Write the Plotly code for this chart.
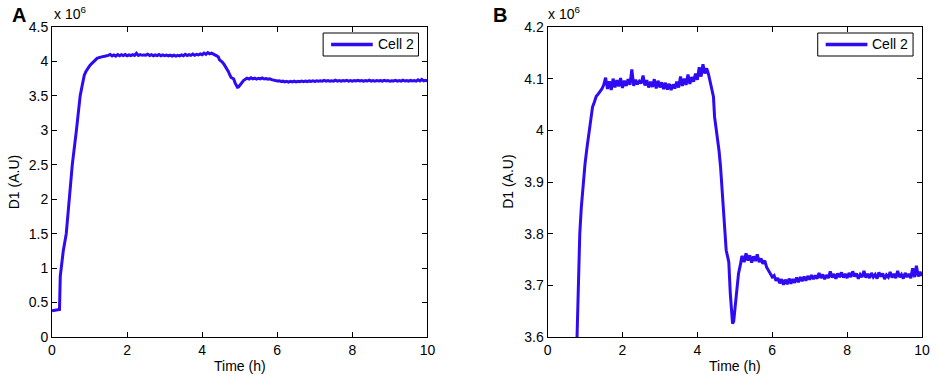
import plotly.graph_objects as go

# ---- data (D1 in units of 1e6, time in hours) ----
time_h = [0.00, 0.10, 0.20, 0.22, 0.30, 0.38, 0.46, 0.54, 0.65, 0.75, 0.80, 0.86, 0.90, 0.95,
          1.00, 1.05, 1.10, 1.15, 1.20, 1.25, 1.30, 1.35, 1.40, 1.45, 1.50,
          1.55, 1.60, 1.65, 1.70, 1.75, 1.80, 1.85, 1.90, 1.95, 2.00, 2.05, 2.10, 2.15, 2.20,
          2.25, 2.30, 2.35, 2.40, 2.45, 2.50, 2.55, 2.60, 2.65, 2.70, 2.75, 2.80, 2.85, 2.90,
          2.95, 3.00, 3.05, 3.10, 3.15, 3.20, 3.25, 3.30, 3.35, 3.40, 3.45, 3.50, 3.55, 3.60,
          3.65, 3.70, 3.75, 3.80, 3.85, 3.90, 3.95, 4.00, 4.05, 4.10, 4.15, 4.20, 4.25, 4.30,
          4.35, 4.40, 4.43, 4.46, 4.50, 4.53, 4.58, 4.62, 4.66, 4.70, 4.74, 4.77, 4.81, 4.84,
          4.88, 4.91, 4.94, 4.97, 5.01, 5.05, 5.10, 5.15, 5.19,
          5.25, 5.30, 5.35, 5.40, 5.45, 5.50, 5.55, 5.60, 5.65, 5.70, 5.75, 5.80, 5.85, 5.90,
          5.95, 6.00, 6.05, 6.10, 6.15, 6.20, 6.25, 6.30, 6.35, 6.40, 6.45, 6.50, 6.55, 6.60,
          6.65, 6.70, 6.75, 6.80, 6.85, 6.90, 6.95, 7.00, 7.05, 7.10, 7.15, 7.20, 7.25, 7.30,
          7.35, 7.40, 7.45, 7.50, 7.55, 7.60, 7.65, 7.70, 7.75, 7.80, 7.85, 7.90, 7.95, 8.00,
          8.05, 8.10, 8.15, 8.20, 8.25, 8.30, 8.35, 8.40, 8.45, 8.50, 8.55, 8.60, 8.65, 8.70,
          8.75, 8.80, 8.85, 8.90, 8.95, 9.00, 9.05, 9.10, 9.15, 9.20, 9.25, 9.30, 9.35, 9.40,
          9.45, 9.50, 9.55, 9.60, 9.65, 9.70, 9.75, 9.80, 9.85, 9.90, 9.95, 10.00]

d1_cell2 = [0.380, 0.390, 0.400, 0.880, 1.250, 1.500, 2.000, 2.500, 3.000, 3.500, 3.640, 3.800, 3.850, 3.897,
            3.935, 3.965, 3.995, 4.020, 4.045, 4.055, 4.066, 4.070, 4.075, 4.080, 4.088,
            4.102, 4.080, 4.095, 4.078, 4.100, 4.083, 4.097, 4.085, 4.101, 4.082, 4.096, 4.086, 4.099, 4.088,
            4.118, 4.086, 4.098, 4.089, 4.095, 4.091, 4.106, 4.087, 4.097, 4.083, 4.094, 4.084, 4.099, 4.081,
            4.096, 4.083, 4.093, 4.080, 4.092, 4.079, 4.090, 4.078, 4.089, 4.081, 4.094, 4.083, 4.104, 4.086,
            4.100, 4.088, 4.108, 4.090, 4.103, 4.094, 4.110, 4.098, 4.122, 4.104, 4.128, 4.110, 4.120, 4.108,
            4.090, 4.077, 4.065, 4.026, 4.005, 3.994, 3.960, 3.929, 3.890, 3.852, 3.800, 3.768, 3.755, 3.745,
            3.684, 3.650, 3.626, 3.630, 3.658, 3.690, 3.723, 3.740, 3.757,
            3.745, 3.762, 3.748, 3.758, 3.744, 3.756, 3.747, 3.760, 3.745, 3.752, 3.742, 3.748, 3.735, 3.728,
            3.722, 3.716, 3.719, 3.709, 3.714, 3.704, 3.712, 3.701, 3.711, 3.702, 3.713, 3.703, 3.712, 3.705,
            3.715, 3.706, 3.716, 3.708, 3.717, 3.709, 3.718, 3.711, 3.720, 3.712, 3.719, 3.713, 3.724, 3.714,
            3.721, 3.712, 3.720, 3.714, 3.727, 3.715, 3.722, 3.713, 3.723, 3.716, 3.725, 3.715, 3.722, 3.714,
            3.724, 3.716, 3.727, 3.717, 3.723, 3.713, 3.721, 3.716, 3.728, 3.715, 3.722, 3.714, 3.724, 3.716,
            3.721, 3.713, 3.725, 3.717, 3.723, 3.712, 3.720, 3.716, 3.726, 3.715, 3.722, 3.714, 3.728, 3.716,
            3.721, 3.713, 3.724, 3.716, 3.722, 3.714, 3.733, 3.716, 3.738, 3.717, 3.726, 3.718]

series_name = "Cell 2"
x_ticks = [0, 2, 4, 6, 8, 10]
yA_ticks = [0, 0.5, 1, 1.5, 2, 2.5, 3, 3.5, 4, 4.5]
yA_labels = ["0", "0.5", "1", "1.5", "2", "2.5", "3", "3.5", "4", "4.5"]
yB_ticks = [3.6, 3.7, 3.8, 3.9, 4.0, 4.1, 4.2]
yB_labels = ["3.6", "3.7", "3.8", "3.9", "4", "4.1", "4.2"]

LINE_COLOR = "#2E0BF2"
FONT = "Liberation Sans, Arial, Helvetica, sans-serif"

W, H = 942, 377
ML, MR, MT, MB = 52, 14, 27, 40
PW, PH = W - ML - MR, H - MT - MB


def px(xp):
    return (xp - ML) / PW


def py(yp):
    return (H - MB - yp) / PH


fig = go.Figure()
fig.add_trace(go.Scatter(x=time_h, y=d1_cell2, mode="lines", name=series_name,
                         line=dict(color=LINE_COLOR, width=3), xaxis="x", yaxis="y",
                         showlegend=False))
fig.add_trace(go.Scatter(x=time_h, y=d1_cell2, mode="lines", name=series_name,
                         line=dict(color=LINE_COLOR, width=3), xaxis="x2", yaxis="y2",
                         showlegend=False))

axis_common = dict(showline=True, linecolor="black", linewidth=1, mirror="ticks",
                   ticks="inside", ticklen=5, tickwidth=1, tickcolor="black",
                   showgrid=False, zeroline=False,
                   tickfont=dict(family=FONT, size=14, color="black"))

xA_dom = [0, px(430)]
xB_dom = [px(551), 1]

fig.update_layout(
    width=W, height=H,
    margin=dict(l=ML, r=MR, t=MT, b=MB),
    paper_bgcolor="white", plot_bgcolor="white",
    font=dict(family=FONT, size=14, color="black"),
    xaxis=dict(domain=xA_dom, range=[0, 10], tickvals=x_ticks, anchor="y", **axis_common),
    yaxis=dict(domain=[0, 1], range=[0, 4.5], tickvals=yA_ticks, ticktext=yA_labels,
               anchor="x", **axis_common),
    xaxis2=dict(domain=xB_dom, range=[0, 10], tickvals=x_ticks, anchor="y2", **axis_common),
    yaxis2=dict(domain=[0, 1], range=[3.6, 4.2], tickvals=yB_ticks, ticktext=yB_labels,
                anchor="x2", **axis_common),
    showlegend=False,
)

ann = []
shapes = []
# panel letters
ann.append(dict(text="<b>A</b>", x=px(10), y=py(28), xref="paper", yref="paper",
                xanchor="left", yanchor="bottom", showarrow=False,
                font=dict(family=FONT, size=20, color="black")))
ann.append(dict(text="<b>B</b>", x=px(494), y=py(28), xref="paper", yref="paper",
                xanchor="left", yanchor="bottom", showarrow=False,
                font=dict(family=FONT, size=20, color="black")))
# exponent labels
for xl in (52, 549):
    ann.append(dict(text="x 10<sup>6</sup>", x=px(xl), y=py(24), xref="paper", yref="paper",
                    xanchor="left", yanchor="bottom", showarrow=False,
                    font=dict(family=FONT, size=14, color="black")))
# axis titles
for xc in ((52 + 430) / 2, (551 + 928) / 2):
    ann.append(dict(text="Time (h)", x=px(xc), y=py(376), xref="paper", yref="paper",
                    xanchor="center", yanchor="bottom", showarrow=False,
                    font=dict(family=FONT, size=14, color="black")))
for xc in (14, 511):
    ann.append(dict(text="D1 (A.U)", x=px(xc), y=py(182), xref="paper", yref="paper",
                    xanchor="center", yanchor="middle", showarrow=False, textangle=-90,
                    font=dict(family=FONT, size=14, color="black")))

# legends (box, line sample, label) for each panel
for x0 in (325, 823):
    shapes.append(dict(type="rect", xref="paper", yref="paper",
                       x0=px(x0), x1=px(x0 + 96), y0=py(56), y1=py(33),
                       line=dict(color="black", width=1), fillcolor="white", layer="above"))
    shapes.append(dict(type="line", xref="paper", yref="paper",
                       x0=px(x0 + 8), x1=px(x0 + 50), y0=py(44.5), y1=py(44.5),
                       line=dict(color=LINE_COLOR, width=3.5), layer="above"))
    ann.append(dict(text=series_name, x=px(x0 + 53), y=py(44.5), xref="paper", yref="paper",
                    xanchor="left", yanchor="middle", showarrow=False,
                    font=dict(family=FONT, size=14, color="black")))

fig.update_layout(annotations=ann, shapes=shapes)

fig.write_html("out.html", config={"displayModeBar": False},
               post_script="document.body.style.margin='0';document.body.style.overflow='hidden';")
